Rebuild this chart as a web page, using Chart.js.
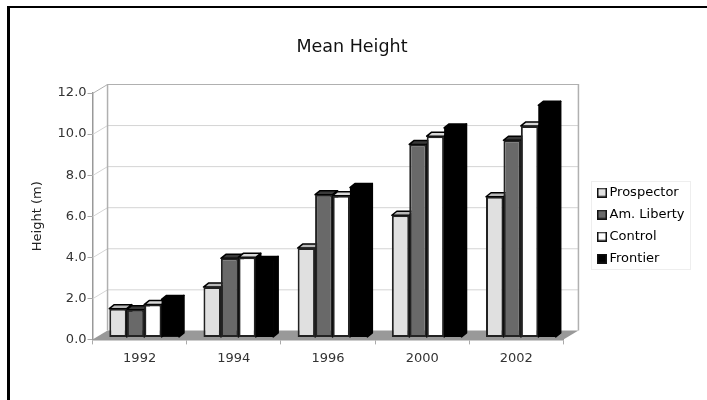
<!DOCTYPE html>
<html>
<head>
<meta charset="utf-8">
<script src="https://cdn.jsdelivr.net/npm/chart.js@4"></script>
<style>
   html, body { margin: 0; background: #fff; overflow: hidden; }
   #wrap { position: relative; width: 707px; height: 400px; }
   #frame { position: absolute; left: 7px; top: 6px; right: 0; bottom: 0; border-top: 2px solid #000; border-left: 3px solid #000; }
   canvas { position: absolute; left: 0; top: 0; }
</style>
</head>
<body>
<div id="wrap">
   <div id="frame"></div>
   <canvas id="chart" width="707" height="400"></canvas>
</div>
<script>
const categories = ["1992", "1994", "1996", "2000", "2002"];
const prospector = [1.4, 2.45, 4.35, 5.95, 6.85];
const amLiberty = [1.35, 3.85, 6.95, 9.4, 9.6];
const control = [1.6, 3.9, 6.9, 9.8, 10.3];
const frontier = [1.85, 3.75, 7.3, 10.2, 11.3];

const seriesNames = ["Prospector", "Am. Liberty", "Control", "Frontier"];
const seriesValues = [prospector, amLiberty, control, frontier];
const fronts = ["#e0e0e0", "#696969", "#ffffff", "#000000"];
const tops = ["#b8b8b8", "#3a3a3a", "#d8d8d8", "#000000"];
const edgeWidths = [2, 2, 2, 0];

const font = "'DejaVu Sans'";
const wallX = 15;
const wallY = -9;
const barDepthX = 5;
const barDepthY = -4;
const barShiftX = 4.5;
const barShiftY = -2;

function poly(ctx, pts, fill, stroke) {
   ctx.beginPath();
   pts.forEach((p, i) => (i ? ctx.lineTo(p[0], p[1]) : ctx.moveTo(p[0], p[1])));
   ctx.closePath();
   if (fill) {
      ctx.fillStyle = fill;
      ctx.fill();
   }
   if (stroke) {
      ctx.strokeStyle = stroke;
      ctx.stroke();
   }
}

// legend swatch, drawn on the right of a wider canvas so it sits closer to its text
function swatch(i) {
   const c = document.createElement("canvas");
   c.width = 18;
   c.height = 10;
   const g = c.getContext("2d");
   g.fillStyle = fronts[i];
   g.fillRect(8, 0, 10, 10);
   g.strokeStyle = "#111111";
   g.lineWidth = 1.5;
   g.strokeRect(8.75, 0.75, 8.5, 8.5);
   return c;
}

// back wall, side wall and floor behind the bars
const wallPlugin = {
   id: "wall",
   beforeDatasetsDraw(chart) {
      const { ctx, chartArea: a, scales } = chart;
      const y = scales.y;
      ctx.save();
      poly(ctx, [[a.left, a.bottom], [a.left + wallX, a.bottom + wallY], [a.right + wallX, a.bottom + wallY], [a.right, a.bottom]], "#999999");
      ctx.lineWidth = 1;
      y.ticks.forEach((t) => {
         const py = y.getPixelForValue(t.value) + 0.5;
         if (t.value === 0) return;
         ctx.strokeStyle = t.value === 12 ? "#b0b0b0" : "#d4d4d4";
         ctx.beginPath();
         ctx.moveTo(a.left, py);
         ctx.lineTo(a.left + wallX, py + wallY);
         ctx.lineTo(a.right + wallX, py + wallY);
         ctx.stroke();
      });
      ctx.strokeStyle = "#b0b0b0";
      ctx.lineWidth = 1.5;
      ctx.beginPath();
      ctx.moveTo(a.left + wallX, a.bottom + wallY);
      ctx.lineTo(a.left + wallX, a.top + wallY);
      ctx.moveTo(a.right + wallX, a.top + wallY);
      ctx.lineTo(a.right + wallX, a.bottom + wallY);
      ctx.stroke();
      ctx.restore();
   },
};

// bar sides and tops, then the fronts come from the library on top
const barPlugin = {
   id: "bar3d",
   beforeDatasetsDraw(chart) {
      const { ctx } = chart;
      ctx.save();
      ctx.translate(barShiftX, barShiftY);
      ctx.lineWidth = 1.5;
      ctx.lineJoin = "round";
      seriesNames.forEach((name, i) => {
         chart.getDatasetMeta(i).data.forEach((bar) => {
            const l = bar.x - bar.width / 2;
            const r = bar.x + bar.width / 2;
            poly(ctx, [[r, bar.y], [r + barDepthX, bar.y + barDepthY], [r + barDepthX, bar.base + barDepthY], [r, bar.base]], "#000000", "#000000");
            poly(ctx, [[l, bar.y], [l + barDepthX, bar.y + barDepthY], [r + barDepthX, bar.y + barDepthY], [r, bar.y]], tops[i], "#000000");
         });
      });
   },
   afterDatasetsDraw(chart) {
      chart.ctx.restore();
   },
};

// legend sits a little below the plot centre, with a faint box
const legendPlugin = {
   id: "legendBox",
   afterLayout(chart) {
      const lg = chart.legend;
      const w = lg.right - lg.left;
      lg.left = 584;
      lg.right = 584 + w;
      lg.top = 177;
      lg.bottom = 390;
   },
   beforeDraw(chart) {
      const { ctx } = chart;
      ctx.save();
      ctx.strokeStyle = "#eeeeee";
      ctx.strokeRect(591.5, 181.5, 99, 88);
      ctx.restore();
   },
};

new Chart(document.getElementById("chart").getContext("2d"), {
   type: "bar",
   data: {
      labels: categories,
      datasets: seriesNames.map((name, i) => ({
         label: name,
         data: seriesValues[i],
         backgroundColor: fronts[i],
         borderColor: "#222222",
         borderWidth: edgeWidths[i],
         borderSkipped: false,
         barPercentage: 1,
         categoryPercentage: 0.74,
         clip: false,
      })),
   },
   options: {
      responsive: false,
      animation: false,
      layout: { padding: { left: 30, right: 33, top: 0, bottom: 28 } },
      plugins: {
         title: {
            display: true,
            text: "Mean Height",
            color: "#111111",
            font: { family: font, size: 17.5, weight: "normal" },
            padding: { top: 37, bottom: 35 },
         },
         legend: {
            position: "right",
            align: "start",
            labels: {
               color: "#222222",
               font: { family: font, size: 13 },
               boxWidth: 10,
               boxHeight: 10,
               padding: 9,
               usePointStyle: true,
               generateLabels: () =>
                  seriesNames.map((name, i) => ({
                     text: name,
                     pointStyle: swatch(i),
                     datasetIndex: i,
                  })),
            },
         },
         tooltip: { enabled: false },
      },
      scales: {
         x: {
            grid: { drawOnChartArea: false, drawTicks: true, tickLength: 5, color: "#aaaaaa" },
            border: { color: "#999999", width: 1.5 },
            ticks: { color: "#333333", font: { family: font, size: 13 }, padding: 6, maxRotation: 0 },
         },
         y: {
            min: 0,
            max: 12,
            grid: { drawOnChartArea: false, drawTicks: true, tickLength: 5, color: "#aaaaaa" },
            border: { color: "#999999", width: 1.5 },
            ticks: {
               stepSize: 2,
               color: "#333333",
               font: { family: font, size: 13 },
               padding: 1,
               callback: (v) => v.toFixed(1),
            },
            title: {
               display: true,
               text: "Height (m)",
               color: "#222222",
               font: { family: font, size: 13 },
               padding: { top: 0, bottom: 11 },
            },
         },
      },
   },
   plugins: [wallPlugin, barPlugin, legendPlugin],
});
</script>
</body>
</html>
